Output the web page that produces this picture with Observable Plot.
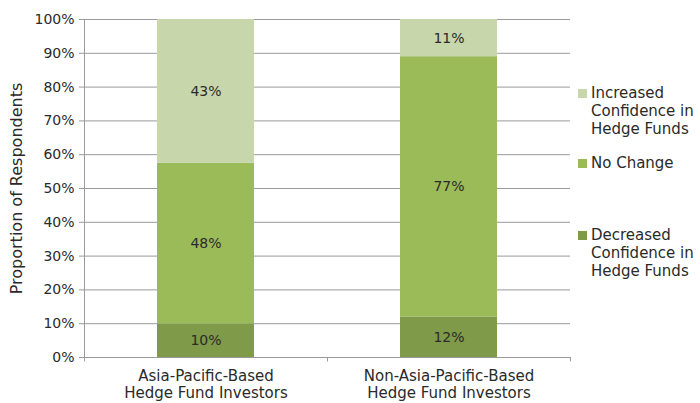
<!DOCTYPE html>
<html>
<head>
<meta charset="utf-8">
<script src="https://cdn.jsdelivr.net/npm/d3@7"></script>
<script src="https://cdn.jsdelivr.net/npm/@observablehq/plot@0.6"></script>
<style>
  body { margin: 0; background: #fff; }
  #wrap { position: relative; width: 700px; height: 403px; font-family: "DejaVu Sans", sans-serif; }
  #legend { position: absolute; left: 578px; top: 0; font-size: 15px; color: #2a2a2a; }
  .item { position: absolute; left: 0; width: 125px; line-height: 18px; }
  .sw { position: absolute; left: 0; top: 5px; width: 9px; height: 9px; }
  .lbl { position: absolute; left: 13px; top: 0; white-space: nowrap; }
</style>
</head>
<body>
<div id="wrap"></div>
<script>
const groups = ["Asia-Pacific-Based\nHedge Fund Investors", "Non-Asia-Pacific-Based\nHedge Fund Investors"];
const series = ["Decreased Confidence in Hedge Funds", "No Change", "Increased Confidence in Hedge Funds"];
const asiaValues = [10, 48, 43];
const nonAsiaValues = [12, 77, 11];
const colors = ["#7f9a48", "#9bbb59", "#c7d7ab"];
const yTicks = [0, 0.1, 0.2, 0.3, 0.4, 0.5, 0.6, 0.7, 0.8, 0.9, 1];

const data = [];
[asiaValues, nonAsiaValues].forEach((vals, gi) => {
  vals.forEach((v, si) => data.push({group: groups[gi], series: series[si], value: v}));
});

const chart = Plot.plot({
  width: 700,
  height: 403,
  marginLeft: 84,
  marginRight: 130,
  marginTop: 19,
  marginBottom: 46,
  style: {fontFamily: "DejaVu Sans, sans-serif", fontSize: "13px", color: "#2a2a2a"},
  x: {domain: groups, paddingInner: 0.6, paddingOuter: 0.3, label: null, axis: null},
  y: {domain: [0, 1], ticks: yTicks, tickFormat: d3.format(".0%"), label: null, axis: null},
  color: {domain: series, range: colors},
  marks: [
    Plot.gridY(yTicks, {stroke: "#9a9a9a", strokeOpacity: 1, strokeWidth: 1}),
    Plot.axisY({ticks: yTicks, tickFormat: d3.format(".0%"), tickSize: 5, tickPadding: 5, stroke: "#9a9a9a", fontSize: 14, label: null}),
    Plot.barY(data, Plot.stackY({offset: "normalize", x: "group", y: "value", z: "series", fill: "series", order: null})),
    Plot.text(data, Plot.stackY({offset: "normalize", x: "group", y: "value", z: "series", text: d => d.value + "%", order: null, fill: "#2a2a2a", fontSize: 14})),
    Plot.ruleX([groups[0]], {dx: -121.5, stroke: "#9a9a9a", y1: 0, y2: 1}),
    Plot.ruleY([0], {stroke: "#9a9a9a"}),
    Plot.ruleX(groups, {dx: -121.5, stroke: "#9a9a9a", y1: 0, y2: -0.013}),
    Plot.ruleX([groups[1]], {dx: 121.5, stroke: "#9a9a9a", y1: 0, y2: -0.013}),
    Plot.axisX({tickSize: 0, tickPadding: 11, fontSize: 15, lineHeight: 1.15, label: null}),
    Plot.text(["Proportion of Respondents"], {frameAnchor: "left", textAnchor: "middle", dx: -68, rotate: -90, fontSize: 16, fill: "#2a2a2a"})
  ]
});
document.getElementById("wrap").appendChild(chart);

const legend = document.createElement("div");
legend.id = "legend";
const legendTops = [84, 154, 226];
const legendLabels = ["Increased<br>Confidence in<br>Hedge Funds", "No Change", "Decreased<br>Confidence in<br>Hedge Funds"];
const legendColors = [colors[2], colors[1], colors[0]];
legendLabels.forEach((t, i) => {
  const it = document.createElement("div");
  it.className = "item";
  it.style.top = legendTops[i] + "px";
  it.innerHTML = `<div class="sw" style="background:${legendColors[i]}"></div><div class="lbl">${t}</div>`;
  legend.appendChild(it);
});
document.getElementById("wrap").appendChild(legend);
</script>
</body>
</html>
